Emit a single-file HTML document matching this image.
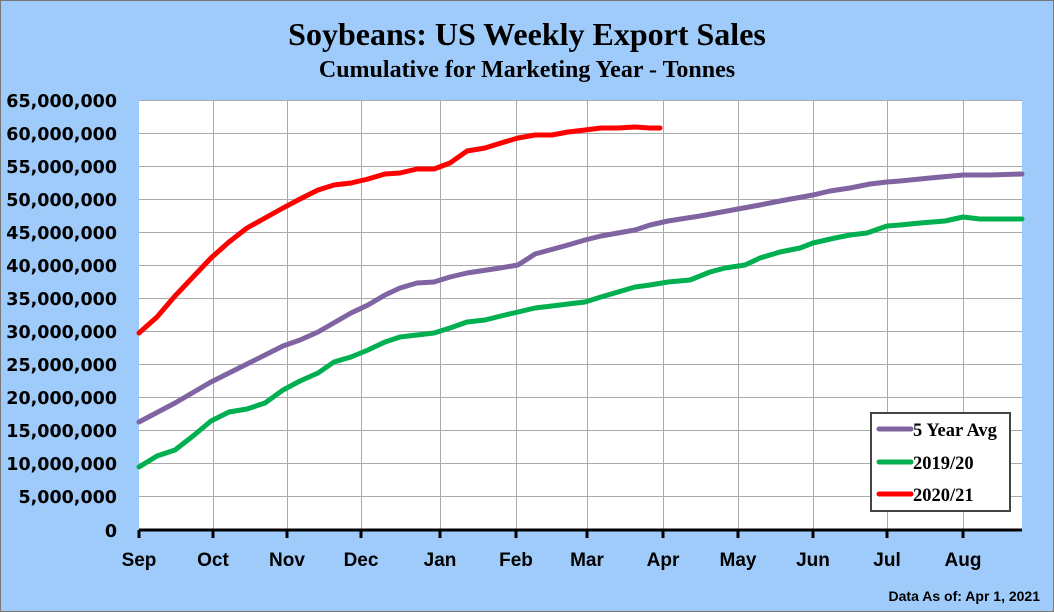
<!DOCTYPE html><html><head><meta charset="utf-8"><style>
html,body{margin:0;padding:0;background:#9fcbfb;}
svg{display:block}
</style></head><body>
<svg width="1054" height="612" xmlns="http://www.w3.org/2000/svg">
<rect x="0.5" y="0.5" width="1053" height="611" fill="#9fcbfb" stroke="#777"/>
<text x="527" y="45" text-anchor="middle" font-family="Liberation Serif" font-weight="bold" font-size="32">Soybeans: US Weekly Export Sales</text>
<text x="527" y="77" text-anchor="middle" font-family="Liberation Serif" font-weight="bold" font-size="24">Cumulative for Marketing Year - Tonnes</text>
<rect x="139" y="100" width="883" height="430" fill="#fff"/>
<g stroke="#aaa" stroke-width="1">
<line x1="139" x2="1022" y1="100.5" y2="100.5"/><line x1="139" x2="1022" y1="133.5" y2="133.5"/><line x1="139" x2="1022" y1="166.5" y2="166.5"/><line x1="139" x2="1022" y1="199.5" y2="199.5"/><line x1="139" x2="1022" y1="232.5" y2="232.5"/><line x1="139" x2="1022" y1="265.5" y2="265.5"/><line x1="139" x2="1022" y1="298.5" y2="298.5"/><line x1="139" x2="1022" y1="331.5" y2="331.5"/><line x1="139" x2="1022" y1="364.5" y2="364.5"/><line x1="139" x2="1022" y1="397.5" y2="397.5"/><line x1="139" x2="1022" y1="430.5" y2="430.5"/><line x1="139" x2="1022" y1="463.5" y2="463.5"/><line x1="139" x2="1022" y1="496.5" y2="496.5"/>
<line y1="100" y2="530" x1="213.5" x2="213.5"/><line y1="100" y2="530" x1="287.5" x2="287.5"/><line y1="100" y2="530" x1="361.5" x2="361.5"/><line y1="100" y2="530" x1="440.5" x2="440.5"/><line y1="100" y2="530" x1="516.5" x2="516.5"/><line y1="100" y2="530" x1="587.5" x2="587.5"/><line y1="100" y2="530" x1="663.5" x2="663.5"/><line y1="100" y2="530" x1="738.5" x2="738.5"/><line y1="100" y2="530" x1="813.5" x2="813.5"/><line y1="100" y2="530" x1="887.5" x2="887.5"/><line y1="100" y2="530" x1="963.5" x2="963.5"/>
</g>
<line x1="139" x2="1022" y1="530" y2="530" stroke="#000" stroke-width="3"/>
<g stroke="#000" stroke-width="3">
<line x1="139" x2="139" y1="530" y2="538"/><line x1="213" x2="213" y1="530" y2="538"/><line x1="287" x2="287" y1="530" y2="538"/><line x1="361" x2="361" y1="530" y2="538"/><line x1="440" x2="440" y1="530" y2="538"/><line x1="516" x2="516" y1="530" y2="538"/><line x1="587" x2="587" y1="530" y2="538"/><line x1="663" x2="663" y1="530" y2="538"/><line x1="738" x2="738" y1="530" y2="538"/><line x1="813" x2="813" y1="530" y2="538"/><line x1="887" x2="887" y1="530" y2="538"/><line x1="963" x2="963" y1="530" y2="538"/>
</g>
<g font-family="DejaVu Sans" font-weight="bold" font-size="17.5" text-anchor="end">
<text x="117" y="107">65,000,000</text><text x="117" y="140">60,000,000</text><text x="117" y="173">55,000,000</text><text x="117" y="206">50,000,000</text><text x="117" y="239">45,000,000</text><text x="117" y="272">40,000,000</text><text x="117" y="305">35,000,000</text><text x="117" y="338">30,000,000</text><text x="117" y="371">25,000,000</text><text x="117" y="404">20,000,000</text><text x="117" y="437">15,000,000</text><text x="117" y="470">10,000,000</text><text x="117" y="503">5,000,000</text><text x="117" y="537">0</text>
</g>
<g font-family="Liberation Sans" font-weight="bold" font-size="19" text-anchor="middle">
<text x="139" y="566">Sep</text><text x="213" y="566">Oct</text><text x="287" y="566">Nov</text><text x="361" y="566">Dec</text><text x="440" y="566">Jan</text><text x="516" y="566">Feb</text><text x="587" y="566">Mar</text><text x="663" y="566">Apr</text><text x="738" y="566">May</text><text x="813" y="566">Jun</text><text x="887" y="566">Jul</text><text x="963" y="566">Aug</text>
</g>
<text x="1040" y="601" text-anchor="end" font-family="Liberation Sans" font-weight="bold" font-size="14">Data As of: Apr 1, 2021</text>
<g fill="none" stroke-width="5" stroke-linejoin="round" stroke-linecap="round">
<polyline stroke="#8064a2" points="139,422 175,403 211,382 247,364 283,346 300,340 318,332 351,313 368,305 385,295 400,288 417,283 434,282 450,277 467,273 500,268 518,265 535,254 568,245 585,240 601,236 618,233 635,230 650,225 668,221 700,216 738,209 760,205 780,201 813,195 830,191 850,188 870,184 887,182 900,181 930,178 963,175 990,175 1022,174"/>
<polyline stroke="#00b050" points="139,467 157,456 175,450 193,436 211,421 229,412 247,409 265,403 283,390 300,381 318,373 334,362 351,357 368,350 385,342 400,337 417,335 434,333 450,328 467,322 485,320 501,316 518,312 535,308 552,306 568,304 585,302 601,297 618,292 635,287 650,285 668,282 690,280 710,272 725,268 745,265 760,258 780,252 800,248 813,243 835,238 850,235 867,233 887,226 900,225 920,223 945,221 963,217 980,219 1022,219"/>
<polyline stroke="#ff0000" points="139,333 157,317 175,296 193,277 211,258 229,242 247,228 265,218 283,208 300,199 318,190 334,185 351,183 368,179 385,174 400,173 417,169 434,169 450,163 467,151 485,148 501,143 518,138 535,135 552,135 568,132 585,130 601,128 618,128 635,127 650,128 660,128"/>
</g>
<rect x="871" y="413" width="139" height="98" fill="#fff" stroke="#444" stroke-width="2"/>
<g stroke-width="5" stroke-linecap="round">
<line x1="879" x2="911" y1="429" y2="429" stroke="#8064a2"/>
<line x1="879" x2="911" y1="462" y2="462" stroke="#00b050"/>
<line x1="879" x2="911" y1="494" y2="494" stroke="#ff0000"/>
</g>
<g font-family="Liberation Serif" font-weight="bold" font-size="18.5">
<text x="913" y="436">5 Year Avg</text><text x="913" y="469">2019/20</text><text x="913" y="501">2020/21</text>
</g>
</svg>
</body></html>
